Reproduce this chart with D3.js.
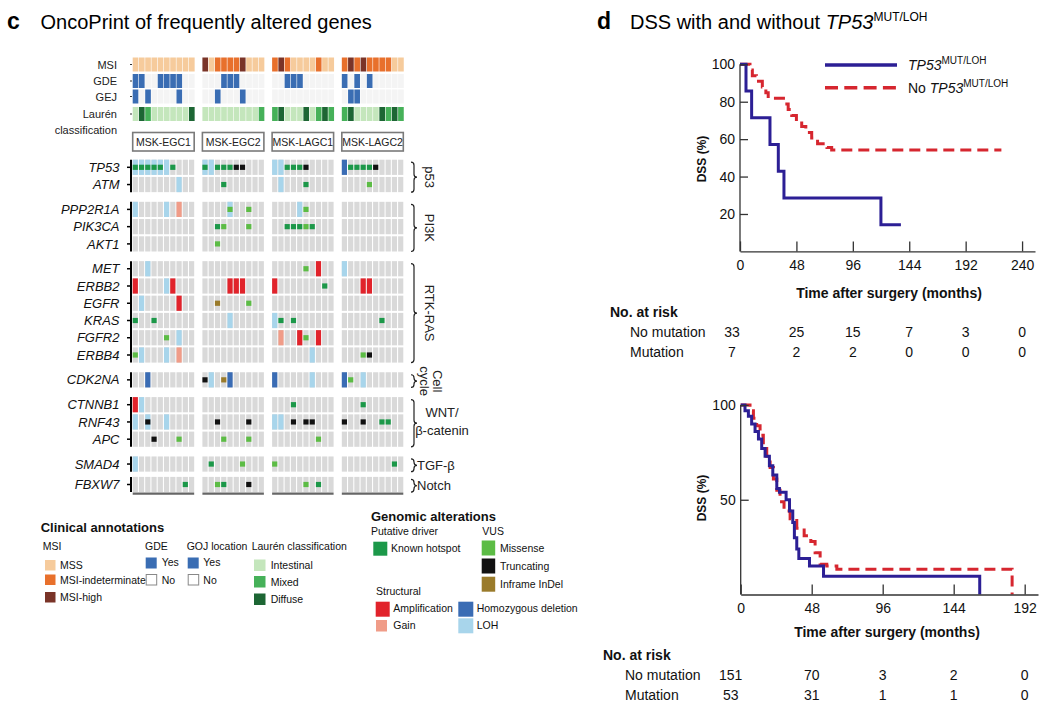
<!DOCTYPE html>
<html><head><meta charset="utf-8">
<script src="https://cdn.jsdelivr.net/npm/d3@7"></script>
<style>
body{margin:0;background:#fff;}
svg{font-family:"Liberation Sans",Arial,Helvetica,sans-serif;}
</style></head>
<body><svg id="c" width="1050" height="710"></svg>
<script>
// ================= DATA =================
const cohorts = ["MSK-EGC1","MSK-EGC2","MSK-LAGC1","MSK-LAGC2"];
// MSI: S = MSS, I = MSI-indeterminate, H = MSI-high (40 patients, 10 per cohort)
const msiStatus = ("SSSSSSSSSS"+"HSIIIIHSSS"+"IHISSSSISS"+"IHIHIIIISS").split("");
const gdeStatus = [1,1,0,0,1,1,1,1,0,0, 0,0,0,1,1,1,0,0,0,0, 0,0,1,1,1,0,0,0,0,0, 1,0,1,0,1,0,0,0,0,0];
const gojStatus = [1,0,1,0,0,0,0,1,0,0, 0,0,1,0,0,0,1,0,0,0, 0,0,0,0,0,0,0,0,0,0, 0,1,1,0,0,0,0,0,0,0];
// Laurén: I = intestinal, M = mixed, D = diffuse
const laurenType = ("IDMIIIIIID"+"IIIIIIIIIM"+"MDIIIDIMDM"+"MDIIIIDMDM").split("");
const annotationLabels = ["MSI","GDE","GEJ","Laurén\nclassification"];

const genes = ["TP53","ATM","PPP2R1A","PIK3CA","AKT1","MET","ERBB2","EGFR","KRAS","FGFR2","ERBB4","CDK2NA","CTNNB1","RNF43","APC","SMAD4","FBXW7"];
const genePathway = [0,0,1,1,1,2,2,2,2,2,2,3,4,4,4,5,6];
const pathways = ["p53","PI3K","RTK-RAS","Cell\ncycle","WNT/\nβ-catenin","TGF-β","Notch"];

// alterations: [gene, patient index 0-39, type]
const alterations = [
 ["TP53",0,"LOH"],["TP53",1,"LOH"],["TP53",2,"LOH"],["TP53",3,"LOH"],["TP53",4,"LOH"],["TP53",5,"LOH"],
 ["TP53",0,"HOT"],["TP53",1,"HOT"],["TP53",2,"HOT"],["TP53",3,"HOT"],["TP53",4,"HOT"],["TP53",6,"HOT"],
 ["TP53",10,"LOH"],["TP53",11,"LOH"],["TP53",10,"HOT"],["TP53",12,"HOT"],["TP53",13,"HOT"],["TP53",14,"HOT"],["TP53",15,"TRUNC"],["TP53",16,"TRUNC"],
 ["TP53",20,"LOH"],["TP53",21,"LOH"],["TP53",22,"HOT"],["TP53",23,"HOT"],["TP53",24,"HOT"],["TP53",25,"TRUNC"],
 ["TP53",30,"HOMDEL"],["TP53",31,"HOT"],["TP53",32,"HOT"],["TP53",33,"HOT"],["TP53",34,"HOT"],["TP53",35,"TRUNC"],
 ["ATM",7,"LOH"],["ATM",13,"HOT"],["ATM",21,"LOH"],["ATM",25,"HOT"],["ATM",34,"MIS"],
 ["PPP2R1A",0,"LOH"],["PPP2R1A",5,"LOH"],["PPP2R1A",7,"GAIN"],["PPP2R1A",14,"LOH"],["PPP2R1A",14,"MIS"],["PPP2R1A",17,"MIS"],["PPP2R1A",24,"LOH"],["PPP2R1A",25,"MIS"],
 ["PIK3CA",12,"HOT"],["PIK3CA",13,"MIS"],["PIK3CA",17,"MIS"],["PIK3CA",22,"HOT"],["PIK3CA",23,"HOT"],["PIK3CA",24,"HOT"],["PIK3CA",25,"MIS"],["PIK3CA",26,"HOT"],
 ["AKT1",12,"MIS"],
 ["MET",2,"LOH"],["MET",25,"MIS"],["MET",27,"AMP"],["MET",30,"LOH"],
 ["ERBB2",0,"AMP"],["ERBB2",5,"LOH"],["ERBB2",6,"AMP"],["ERBB2",14,"AMP"],["ERBB2",15,"AMP"],["ERBB2",16,"AMP"],["ERBB2",20,"AMP"],["ERBB2",28,"HOT"],["ERBB2",33,"AMP"],["ERBB2",34,"AMP"],
 ["EGFR",1,"LOH"],["EGFR",7,"AMP"],["EGFR",12,"INDEL"],["EGFR",17,"MIS"],
 ["KRAS",0,"HOT"],["KRAS",3,"HOT"],["KRAS",14,"LOH"],["KRAS",20,"LOH"],["KRAS",21,"HOT"],["KRAS",23,"HOT"],["KRAS",36,"HOT"],
 ["FGFR2",5,"MIS"],["FGFR2",7,"LOH"],["FGFR2",21,"GAIN"],["FGFR2",24,"AMP"],["FGFR2",25,"MIS"],["FGFR2",27,"AMP"],
 ["ERBB4",0,"MIS"],["ERBB4",1,"LOH"],["ERBB4",5,"LOH"],["ERBB4",7,"GAIN"],["ERBB4",26,"LOH"],["ERBB4",33,"MIS"],["ERBB4",34,"TRUNC"],
 ["CDK2NA",2,"HOMDEL"],["CDK2NA",10,"TRUNC"],["CDK2NA",11,"LOH"],["CDK2NA",13,"INDEL"],["CDK2NA",14,"HOMDEL"],["CDK2NA",20,"HOMDEL"],["CDK2NA",26,"LOH"],["CDK2NA",30,"HOMDEL"],["CDK2NA",31,"MIS"],["CDK2NA",33,"LOH"],
 ["CTNNB1",0,"AMP"],["CTNNB1",1,"LOH"],["CTNNB1",23,"HOT"],["CTNNB1",33,"HOT"],
 ["RNF43",0,"LOH"],["RNF43",2,"LOH"],["RNF43",2,"TRUNC"],["RNF43",5,"LOH"],["RNF43",12,"TRUNC"],["RNF43",17,"TRUNC"],["RNF43",20,"LOH"],["RNF43",21,"LOH"],["RNF43",23,"TRUNC"],["RNF43",25,"TRUNC"],["RNF43",26,"TRUNC"],["RNF43",30,"TRUNC"],["RNF43",33,"TRUNC"],["RNF43",36,"HOT"],["RNF43",37,"HOT"],
 ["APC",3,"TRUNC"],["APC",7,"MIS"],["APC",13,"MIS"],["APC",17,"MIS"],["APC",27,"MIS"],
 ["SMAD4",0,"LOH"],["SMAD4",11,"HOT"],["SMAD4",16,"MIS"],["SMAD4",20,"MIS"],["SMAD4",38,"HOT"],
 ["FBXW7",8,"HOT"],["FBXW7",12,"MIS"],["FBXW7",13,"HOT"],["FBXW7",17,"TRUNC"],["FBXW7",25,"MIS"],["FBXW7",27,"HOT"]
];

// Kaplan-Meier curves: [months, DSS %]
const kmTopMut = [[0,100],[5.1,85.7],[9.9,71.4],[25.5,57.1],[32.6,42.9],[37.4,28.6],[119.9,14.3],[136.9,14.3]];
const kmTopNoMut = [[0,100],[8.5,97],[10.5,93.9],[14,90.9],[19,87.9],[22,84.8],[24,81.8],[38.3,78.8],[41,75.8],[44,72.7],[48,69.7],[52.5,66.7],[56,63.6],[61,60.6],[66,57.6],[74,55.5],[78,54.2],[222.4,54.2]];
const kmBotMut = [[0,100],[2.9,97],[5.2,94],[7.4,90],[9.7,86],[12,82],[14.2,77],[16.5,73],[19.4,68],[21.7,63],[24.4,56],[26.2,54],[30.7,50],[33,44],[35.2,38],[36.3,30],[37.9,24],[39.3,19],[46.5,15],[56,9.6],[161.6,0]];
const kmBotNoMut = [[0,100],[6.3,97],[8.6,93],[10.8,89],[13.1,84],[15.3,79],[17.6,73],[19.9,67],[22.1,61],[24.4,55],[26.6,49],[29.3,44],[33.4,40],[37.9,35],[42.9,31],[47.4,28],[50.3,22],[53.7,16],[58.2,15],[65,13.3],[183.5,13.3],[183.5,0]];
const kmTopTicksX = [0,48,96,144,192,240];
const kmTopTicksY = [20,40,60,80,100];
const kmBotTicksX = [0,48,96,144,192];
const kmBotTicksY = [50,100];
const riskTopNoMut = [33,25,15,7,3,0];
const riskTopMut = [7,2,2,0,0,0];
const riskBotNoMut = [151,70,3,2,0];
const riskBotMut = [53,31,1,1,0];

// legend categories
const msiLegend = [["S","MSS"],["I","MSI-indeterminate"],["H","MSI-high"]];
const laurenLegend = [["I","Intestinal"],["M","Mixed"],["D","Diffuse"]];
const vusLegend = [["MIS","Missense"],["TRUNC","Truncating"],["INDEL","Inframe InDel"]];

// ================= STYLE =================
const FONT = "'Liberation Sans', Arial, Helvetica, sans-serif";
const msiColor = {S:"#f6cb9c", I:"#e8702c", H:"#7a3428"};
const laurenColor = {I:"#c4e6bc", M:"#46b159", D:"#1d6634"};
const blueYes = "#3a6db3";
const altColor = {HOT:"#1c9849", MIS:"#5cbc45", TRUNC:"#111111", INDEL:"#9a7b2b", AMP:"#e1232b", GAIN:"#f09c88", HOMDEL:"#3a6cb4", LOH:"#a8d5eb"};
const structuralTypes = new Set(["AMP","GAIN","HOMDEL","LOH"]);
const blueLine = "#2c1f95", redLine = "#d6262f";

const svg = d3.select("#c");

// ================= PANEL TITLES =================
svg.append("text").attr("x",7).attr("y",29).attr("font-size",23).attr("font-weight","bold").text("c");
svg.append("text").attr("x",40.5).attr("y",29).attr("font-size",20).text("OncoPrint of frequently altered genes");
svg.append("text").attr("x",597).attr("y",29).attr("font-size",23).attr("font-weight","bold").text("d");
{
  const t = svg.append("text").attr("x",630).attr("y",29).attr("font-size",20);
  t.append("tspan").text("DSS with and without ");
  t.append("tspan").attr("font-style","italic").text("TP53");
  t.append("tspan").attr("font-size",12).attr("dy",-8).text("MUT/LOH");
}

// ================= ONCOPRINT =================
const xCohort = d3.scaleBand().domain(cohorts).range([132.7, 403.3]).paddingInner(0.118);
const xCol = d3.scaleBand().domain(d3.range(10)).range([0, xCohort.bandwidth()]).paddingInner(0.17);
const px = i => xCohort(cohorts[Math.floor(i/10)]) + xCol(i % 10);
const cw = xCol.bandwidth();
const patients = d3.range(40);

// annotation tracks
const annTop = [57.5, 74, 89.5, 107], annH = 14;
const annW = xCol.step() - 0.6;
const annData = [
  patients.map(i => msiColor[msiStatus[i]]),
  patients.map(i => gdeStatus[i] ? blueYes : "#f4f4f4"),
  patients.map(i => gojStatus[i] ? blueYes : "#f4f4f4"),
  patients.map(i => laurenColor[laurenType[i]])
];
annData.forEach((cols, r) => {
  svg.append("g").selectAll("rect").data(patients).join("rect")
    .attr("x", i => px(i)).attr("y", annTop[r]).attr("width", annW).attr("height", annH)
    .attr("fill", i => cols[i]);
  svg.append("line").attr("x1",130).attr("x2",132).attr("y1",annTop[r]+annH/2).attr("y2",annTop[r]+annH/2)
    .attr("stroke","#333").attr("stroke-width",1.2);
  const lines = annotationLabels[r].split("\n");
  lines.forEach((l, k) => {
    svg.append("text").attr("x",117).attr("y", annTop[r]+annH/2+4 + k*15.5).attr("text-anchor","end")
      .attr("font-size",11).attr("fill","#222").text(l);
  });
});

// cohort boxes
const boxes = svg.append("g").selectAll("g").data(cohorts).join("g");
boxes.append("rect").attr("x", c => xCohort(c)).attr("y",132.5).attr("width", xCohort.bandwidth()).attr("height",18.5)
  .attr("fill","#fff").attr("stroke","#7a7a7a").attr("stroke-width",1.6);
boxes.append("text").attr("x", c => xCohort(c)+xCohort.bandwidth()/2).attr("y",145.7).attr("text-anchor","middle")
  .attr("font-size",10.5).attr("fill","#222").text(c => c);

// gene rows y positions (layout)
const rowStep = 17.25, groupGap = [0, 7.6, 7.6, 7.6, 7.6, 7.6, 3.2];
const rowYs = [];
genes.forEach((g, i) => {
  if (i === 0) rowYs.push(167.3);
  else rowYs.push(rowYs[i-1] + rowStep + (genePathway[i] !== genePathway[i-1] ? groupGap[genePathway[i]] : 0));
});
const yGene = d3.scaleOrdinal(genes, rowYs);
const ch = 15.2;

// grey background cells
const cells = [];
genes.forEach(g => patients.forEach(p => cells.push([g, p])));
svg.append("g").selectAll("rect").data(cells).join("rect")
  .attr("x", d => px(d[1])).attr("y", d => yGene(d[0]) - ch/2).attr("width", cw).attr("height", ch)
  .attr("fill","#d9d9d9");
// structural
svg.append("g").selectAll("rect").data(alterations.filter(a => structuralTypes.has(a[2]))).join("rect")
  .attr("x", d => px(d[1])).attr("y", d => yGene(d[0]) - ch/2).attr("width", cw)
  .attr("height", ch).attr("fill", d => altColor[d[2]]);
// mutations
svg.append("g").selectAll("rect").data(alterations.filter(a => !structuralTypes.has(a[2]))).join("rect")
  .attr("x", d => px(d[1])).attr("y", d => yGene(d[0]) - 2.6).attr("width", cw)
  .attr("height", 5.2).attr("fill", d => altColor[d[2]]);

// gene labels
svg.append("g").selectAll("text").data(genes).join("text")
  .attr("x",119.5).attr("y", g => yGene(g)+4.6).attr("text-anchor","end")
  .attr("font-size",13).attr("font-style","italic").attr("fill","#111").text(g => g);

// left axis segments & right brackets per pathway
pathways.forEach((pw, k) => {
  const gs = genes.filter((g, i) => genePathway[i] === k);
  const y0 = yGene(gs[0]) - ch/2, y1 = yGene(gs[gs.length-1]) + ch/2;
  svg.append("line").attr("x1",131).attr("x2",131).attr("y1",y0).attr("y2",y1).attr("stroke","#000").attr("stroke-width",2);
  gs.forEach(g => svg.append("line").attr("x1",127).attr("x2",131).attr("y1",yGene(g)).attr("y2",yGene(g)).attr("stroke","#000").attr("stroke-width",1.5));
  // bracket
  const bx = 411, by0 = y0 + 2.5, by1 = y1, ym = (by0+by1)/2;
  const r = Math.min(3, (by1-by0)/4);
  const path = `M${bx},${by0} Q${bx+3},${by0} ${bx+3},${by0+r} L${bx+3},${ym-r} Q${bx+3},${ym} ${bx+6},${ym} Q${bx+3},${ym} ${bx+3},${ym+r} L${bx+3},${by1-r} Q${bx+3},${by1} ${bx},${by1}`;
  svg.append("path").attr("d", path).attr("fill","none").attr("stroke","#222").attr("stroke-width",1.2);
  const lines = pw.split("\n");
  if (k <= 3) {
    // rotated labels
    const n = lines.length;
    lines.forEach((l, j) => {
      const cx = n === 1 ? 430 : (j === 0 ? 438 : 425);
      svg.append("text").attr("transform", `translate(${cx},${ym}) rotate(90)`)
        .attr("text-anchor","middle").attr("dy","0.35em").attr("font-size",13).attr("fill","#222").text(l);
    });
  } else if (lines.length === 2) {
    lines.forEach((l, j) => {
      svg.append("text").attr("x",442).attr("y", ym - 6 + j*18).attr("text-anchor","middle")
        .attr("font-size",13).attr("fill","#222").text(l);
    });
  } else {
    svg.append("text").attr("x",417).attr("y", ym + 4.5).attr("font-size",13).attr("fill","#222").text(pw);
  }
});

// bottom group lines
const yBottomLine = yGene(genes[genes.length-1]) + ch/2 + 1.5;
svg.append("g").selectAll("line").data(cohorts).join("line")
  .attr("x1", c => xCohort(c)).attr("x2", c => xCohort(c)+xCohort.bandwidth())
  .attr("y1", yBottomLine).attr("y2", yBottomLine).attr("stroke","#666").attr("stroke-width",2.4);

// ================= LEGENDS =================
function txt(x, y, s, size, opts = {}) {
  const t = svg.append("text").attr("x",x).attr("y",y).attr("font-size",size).attr("fill","#111").text(s);
  if (opts.bold) t.attr("font-weight","bold");
  return t;
}
function sw(x, y, w, h, fill, stroke) {
  svg.append("rect").attr("x",x).attr("y",y).attr("width",w).attr("height",h).attr("fill",fill)
    .attr("stroke", stroke || "none").attr("stroke-width", stroke ? 1 : 0);
}
txt(40.7, 532, "Clinical annotations", 13, {bold:true});
txt(42.7, 550.4, "MSI", 10.5);
const msiY = [560, 574.5, 592];
msiLegend.forEach((d, i) => { sw(45, msiY[i], 10.5, 10.5, msiColor[d[0]]); txt(60, msiY[i]+9, d[1], 10.5); });
txt(145, 550.4, "GDE", 10.5);
sw(145.7, 557.5, 11, 11, blueYes); txt(161.7, 566, "Yes", 10.5);
sw(146.2, 574.5, 10.5, 10.5, "#fff", "#888"); txt(161.7, 583.5, "No", 10.5);
txt(186.7, 550.4, "GOJ location", 10.5);
sw(187.7, 557.5, 11, 11, blueYes); txt(203.3, 566, "Yes", 10.5);
sw(188.2, 574.5, 10.5, 10.5, "#fff", "#888"); txt(203.3, 583.5, "No", 10.5);
txt(251.7, 550.4, "Laurén classification", 10.5);
const laY = [559.5, 576, 593.5];
laurenLegend.forEach((d, i) => { sw(254, laY[i], 11.5, 11.5, laurenColor[d[0]]); txt(270.7, laY[i]+9.5, d[1], 10.5); });

txt(371, 520.5, "Genomic alterations", 13, {bold:true});
txt(371, 534.7, "Putative driver", 10.5);
sw(373.3, 541.7, 14, 14, altColor.HOT); txt(391, 552, "Known hotspot", 10.5);
txt(482.3, 534.7, "VUS", 10.5);
const vusY = [540.5, 558.5, 576.7];
vusLegend.forEach((d, i) => { sw(481.7, vusY[i], 13.5, 15, altColor[d[0]]); txt(500, vusY[i]+11.2, d[1], 10.5); });
txt(376, 595.4, "Structural", 10.5);
sw(375.7, 601.7, 14, 15, altColor.AMP); txt(393.3, 612, "Amplification", 10.5);
sw(376, 620, 11, 11.5, altColor.GAIN); txt(393.3, 629, "Gain", 10.5);
sw(458.3, 601.7, 15, 15, altColor.HOMDEL); txt(476.7, 612, "Homozygous deletion", 10.5);
sw(458.3, 618.3, 15, 15, altColor.LOH); txt(476.7, 629, "LOH", 10.5);

// ================= KM PLOTS =================
function kmPanel(cfg) {
  const g = svg.append("g");
  const x = d3.scaleLinear().domain(cfg.xDomain).range(cfg.xRange);
  const y = d3.scaleLinear().domain([0,100]).range(cfg.yRange);
  const line = d3.line().x(d => x(d[0])).y(d => y(d[1])).curve(d3.curveStepAfter);
  g.append("path").datum(cfg.noMut).attr("d", line).attr("fill","none").attr("stroke", redLine)
    .attr("stroke-width",3).attr("stroke-dasharray","11,6");
  g.append("path").datum(cfg.mut).attr("d", line).attr("fill","none").attr("stroke", blueLine)
    .attr("stroke-width",3);
  const xa = g.append("g").attr("transform",`translate(0,${cfg.yRange[0]})`)
    .call(d3.axisBottom(x).tickValues(cfg.ticksX).tickSizeInner(-10).tickSizeOuter(0).tickPadding(9));
  const ya = g.append("g").attr("transform",`translate(${cfg.xRange[0]},0)`)
    .call(d3.axisLeft(y).tickValues(cfg.ticksY).tickSizeInner(-8).tickSizeOuter(0).tickPadding(5));
  [xa, ya].forEach(a => {
    a.attr("font-family", FONT).attr("font-size",14);
    a.selectAll("path,line").attr("stroke","#333").attr("stroke-width",1.3);
    a.selectAll("text").attr("fill","#111");
  });
  ya.select(".domain").attr("d", `M0,${cfg.yRange[0]}V${y(100)}`);
  g.append("text").attr("x", cfg.titleX).attr("y", cfg.titleY).attr("text-anchor","middle")
    .attr("font-size",14).attr("font-weight","bold").attr("fill","#111").text("Time after surgery (months)");
  g.append("text").attr("transform",`translate(706,${cfg.dssY}) rotate(-90)`).attr("text-anchor","middle")
    .attr("font-size",12).attr("font-weight","bold").attr("fill","#111").text("DSS (%)");
  // risk table
  const t = cfg.table;
  txt(t.x0, t.y0, "No. at risk", 14, {bold:true});
  txt(t.x1, t.y1, "No mutation", 14);
  txt(t.x1, t.y2, "Mutation", 14);
  [[cfg.riskNo, t.y1],[cfg.riskMut, t.y2]].forEach(([arr, yy]) => {
    g.append("g").selectAll("text").data(arr).join("text")
      .attr("x", (d, i) => x(cfg.ticksX[i]) + (i === 0 ? t.firstShift : 0)).attr("y", yy)
      .attr("text-anchor","middle").attr("font-size",14).attr("fill","#111").text(d => d);
  });
  return {x, y};
}

kmPanel({xDomain:[0,251], xRange:[740,1035], yRange:[251.4,64.3], ticksX:kmTopTicksX, ticksY:kmTopTicksY,
  mut:kmTopMut, noMut:kmTopNoMut, titleX:889, titleY:298, dssY:159,
  riskNo:riskTopNoMut, riskMut:riskTopMut,
  table:{x0:610, y0:317, x1:630, y1:337, y2:357, firstShift:-8}});
kmPanel({xDomain:[0,201], xRange:[740.7,1038], yRange:[594.5,405], ticksX:kmBotTicksX, ticksY:kmBotTicksY,
  mut:kmBotMut, noMut:kmBotNoMut, titleX:887, titleY:637, dssY:498,
  riskNo:riskBotNoMut, riskMut:riskBotMut,
  table:{x0:603, y0:660, x1:625, y1:680, y2:699.5, firstShift:-10}});

// top KM legend
svg.append("line").attr("x1",825).attr("x2",897).attr("y1",65).attr("y2",65).attr("stroke",blueLine).attr("stroke-width",3.5);
svg.append("line").attr("x1",825).attr("x2",897).attr("y1",87.7).attr("y2",87.7).attr("stroke",redLine).attr("stroke-width",3.5).attr("stroke-dasharray","13,6.3");
{
  const a = svg.append("text").attr("x",908).attr("y",70).attr("font-size",14).attr("fill","#111");
  a.append("tspan").attr("font-style","italic").text("TP53");
  a.append("tspan").attr("font-size",10).attr("dy",-6).text("MUT/LOH");
  const b = svg.append("text").attr("x",908).attr("y",93).attr("font-size",14).attr("fill","#111");
  b.append("tspan").text("No ");
  b.append("tspan").attr("font-style","italic").text("TP53");
  b.append("tspan").attr("font-size",10).attr("dy",-6).text("MUT/LOH");
}
</script>
</body></html>
